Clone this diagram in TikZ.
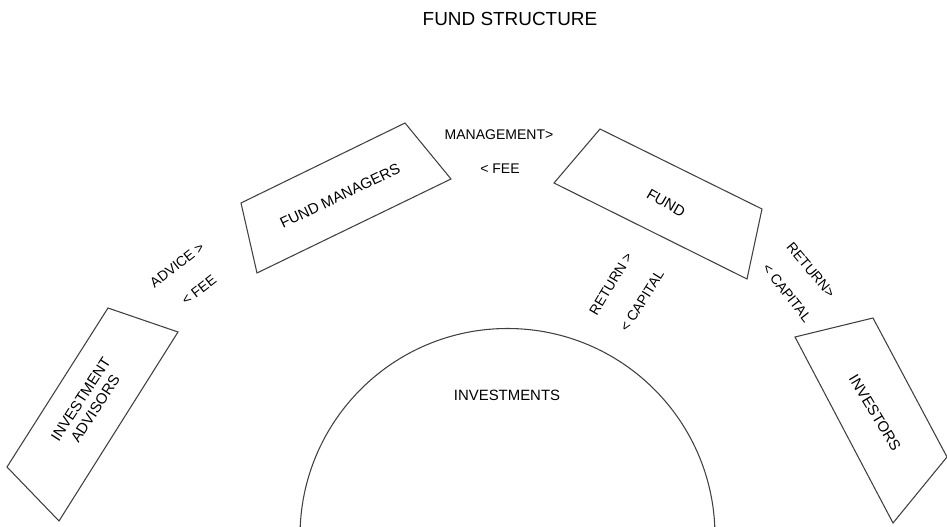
\documentclass[tikz,border=0pt]{standalone}
\usepackage{fontspec}
\setmainfont{Liberation Sans}
\begin{document}
\begin{tikzpicture}[x=0.75pt,y=-0.75pt,
  outline/.style={draw=black!75, line width=0.8pt, line join=miter},
  boxlabel/.style={font=\fontsize{11.2}{13}\selectfont, align=center, text=black, inner sep=0pt},
  flowlabel/.style={font=\fontsize{10.5}{12}\selectfont, text=black, inner sep=0pt},
  titlelabel/.style={font=\fontsize{14.2}{16}\selectfont, text=black, inner sep=0pt}]
\useasboundingbox (0,0) rectangle (947,527);

% title
\node[titlelabel] (title) at (510,19) {FUND STRUCTURE};

% investments (half disc cut by the lower border)
\begin{scope}
  \clip (0,0) rectangle (947,527);
  \draw[outline] (507.5,536) circle [radius=207.5];
\end{scope}
\node[boxlabel] (inv) at (507,395) {INVESTMENTS};

% fund managers
\coordinate (fm1) at (241,203);
\coordinate (fm2) at (405,123);
\coordinate (fm3) at (451,179);
\coordinate (fm4) at (257,273);
\draw[outline] (fm1) -- (fm2) -- (fm3) -- (fm4) -- cycle;
\node[boxlabel, rotate=25.5] (fm) at (340,196) {FUND MANAGERS};

% fund
\coordinate (fd1) at (600,129);
\coordinate (fd2) at (762,209);
\coordinate (fd3) at (747,279);
\coordinate (fd4) at (554,183);
\draw[outline] (fd1) -- (fd2) -- (fd3) -- (fd4) -- cycle;
\node[boxlabel, rotate=-30] (fund) at (666,203) {FUND};

% investment advisors
\coordinate (ia1) at (108,308);
\coordinate (ia2) at (178,332);
\coordinate (ia3) at (59,521);
\coordinate (ia4) at (7,467);
\draw[outline] (ia1) -- (ia2) -- (ia3) -- (ia4) -- cycle;
\node[boxlabel, rotate=57] (ia) at (88,404) {INVESTMENT\\ADVISORS};

% investors
\coordinate (is1) at (795,337);
\coordinate (is2) at (873,318);
\coordinate (is3) at (947,457);
\coordinate (is4) at (893,523);
\draw[outline] (is1) -- (is2) -- (is3) -- (is4) -- cycle;
\node[boxlabel, rotate=-59] (is) at (875,413) {INVESTORS};

% flows between the parties
\node[flowlabel] (mgmt) at (499,135) {MANAGEMENT>};
\node[flowlabel] (mfee) at (500,169) {< FEE};
\node[flowlabel, rotate=38] (adv) at (177,265) {ADVICE >};
\node[flowlabel, rotate=38] (afee) at (199,290) {< FEE};
\node[flowlabel, rotate=59] (ret1) at (611,284) {RETURN >};
\node[flowlabel, rotate=58] (cap1) at (642,301) {< CAPITAL};
\node[flowlabel, rotate=-50] (ret2) at (811,270) {RETURN>};
\node[flowlabel, rotate=-52] (cap2) at (787,293) {< CAPITAL};
\end{tikzpicture}
\end{document}
